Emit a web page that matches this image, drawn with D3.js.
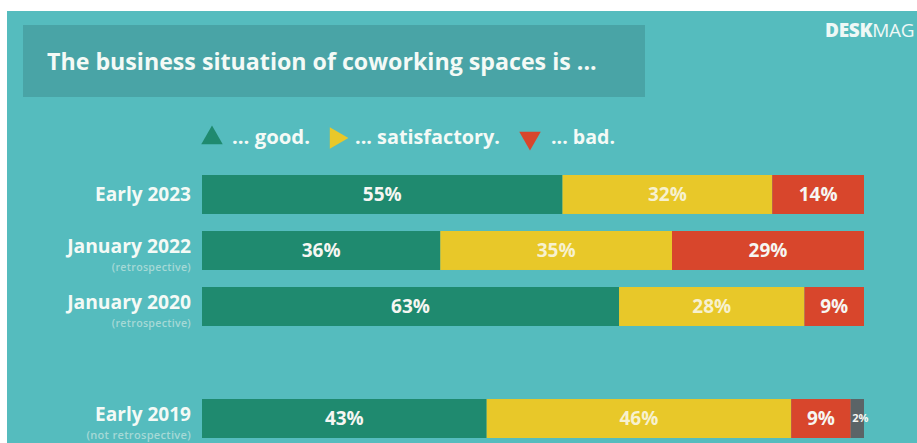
<!DOCTYPE html>
<html>
<head>
<meta charset="utf-8">
<script src="https://cdn.jsdelivr.net/npm/d3@7"></script>
<style>
  html, body { margin: 0; padding: 0; background: #ffffff; }
  svg { display: block; font-family: "Open Sans", Lato, sans-serif; }
</style>
</head>
<body>
<div id="chart"></div>
<script>
// survey rows, top to bottom ("" leaves an empty slot before 2019)
var rows = ["Early 2023", "January 2022", "January 2020", "", "Early 2019"];
var notes = ["", "(retrospective)", "(retrospective)", "", "(not retrospective)"];

// shares in percent per answer
var good = [55, 36, 63, null, 43];
var satisfactory = [32, 35, 28, null, 46];
var bad = [14, 29, 9, null, 9];
var noAnswer = [0, 0, 0, null, 2];

var legendLabels = ["... good.", "... satisfactory.", "... bad."];
var colors = ["#1f8a6f", "#e8c829", "#d8462c", "#5b6467"];

var W = 917, H = 443;

var svg = d3.select("#chart").append("svg")
  .attr("width", W)
  .attr("height", H);

// scale a text's font so it spans roughly the width seen in the picture
function fit(sel, width) {
  var fs = parseFloat(sel.style("font-size"));
  var w = sel.node().getComputedTextLength();
  if (w > 0) sel.style("font-size", (fs * width / w).toFixed(2) + "px");
  return sel;
}

// teal backdrop (photo has a white margin top/left)
svg.append("rect")
  .attr("x", 7).attr("y", 11)
  .attr("width", W - 7).attr("height", H - 11)
  .attr("fill", "#55bcbe");

// title box
svg.append("rect")
  .attr("x", 23).attr("y", 25)
  .attr("width", 622).attr("height", 72)
  .attr("fill", "#49a4a6");

var title = svg.append("text")
  .attr("x", 47).attr("y", 70)
  .attr("fill", "#f4faf6")
  .style("font-size", "21px")
  .style("font-weight", "700")
  .text("The business situation of coworking spaces is ...");
fit(title, 550);

var brand = svg.append("text")
  .attr("x", 825).attr("y", 37)
  .attr("fill", "#eef8f6")
  .style("font-size", "19px")
  .style("letter-spacing", "-0.3px");
brand.append("tspan").style("font-weight", "800").text("DESK");
brand.append("tspan").style("font-weight", "400").text("MAG");

// legend
var legend = svg.append("g");
var legendX = [212, 336, 530];
var legendTextX = [232, 355, 551];
var legendW = [78, 145, 64];
var rot = [0, 90, 180];
var tri = d3.symbol().type(d3.symbolTriangle).size(200)();

legendLabels.forEach(function(l, i) {
  legend.append("path")
    .attr("d", tri)
    .attr("transform", "translate(" + legendX[i] + ",138) rotate(" + rot[i] + ")")
    .attr("fill", colors[i]);
  var t = legend.append("text")
    .attr("x", legendTextX[i]).attr("y", 144)
    .attr("fill", "#f4faf6")
    .style("font-size", "17px")
    .style("font-weight", "700")
    .text(l);
  fit(t, legendW[i]);
});

// scales
var y = d3.scaleBand()
  .domain(rows)
  .range([175, 438])
  .paddingInner(0.304)
  .paddingOuter(0);

var left = 202, right = 864;

var series = [good, satisfactory, bad, noAnswer];
var labelW = {"Early 2023": 96, "January 2022": 124, "January 2020": 124, "Early 2019": 96};
var noteW = {"(retrospective)": 80, "(not retrospective)": 106};

rows.forEach(function(r, i) {
  if (r === "") return;
  var vals = series.map(function(s) { return s[i]; });
  var total = d3.sum(vals);
  var x = d3.scaleLinear().domain([0, total]).range([left, right]);
  var acc = 0;
  var g = svg.append("g");

  vals.forEach(function(v, k) {
    if (!v) return;
    var x0 = x(acc), x1 = x(acc + v);
    acc += v;
    g.append("rect")
      .attr("x", x0)
      .attr("y", y(r))
      .attr("width", x1 - x0)
      .attr("height", y.bandwidth())
      .attr("fill", colors[k]);
    g.append("text")
      .attr("x", (x0 + x1) / 2 + (k === 3 ? 3 : 0))
      .attr("y", y(r) + y.bandwidth() / 2)
      .attr("dy", "0.36em")
      .attr("text-anchor", "middle")
      .attr("fill", k === 1 ? "#f7f1cf" : "#f6f6f2")
      .style("font-size", k === 3 ? "11px" : "19px")
      .style("font-weight", "700")
      .text(v + "%");
  });

  // row label
  var cy = y(r) + y.bandwidth() / 2;
  var hasNote = notes[i] !== "";
  var lab = svg.append("text")
    .attr("x", 191)
    .attr("y", hasNote ? cy - 4 : cy)
    .attr("dy", "0.36em")
    .attr("text-anchor", "end")
    .attr("fill", "#f4faf6")
    .style("font-size", "18px")
    .style("font-weight", "700")
    .text(r);
  fit(lab, labelW[r]);
  if (hasNote) {
    var n = svg.append("text")
      .attr("x", 191)
      .attr("y", cy + 17)
      .attr("dy", "0.36em")
      .attr("text-anchor", "end")
      .attr("fill", "#a6d9d6")
      .style("font-size", "9px")
      .style("font-weight", "600")
      .style("letter-spacing", "0.3px")
      .text(notes[i]);
    fit(n, noteW[notes[i]]);
  }
});
</script>
</body>
</html>
